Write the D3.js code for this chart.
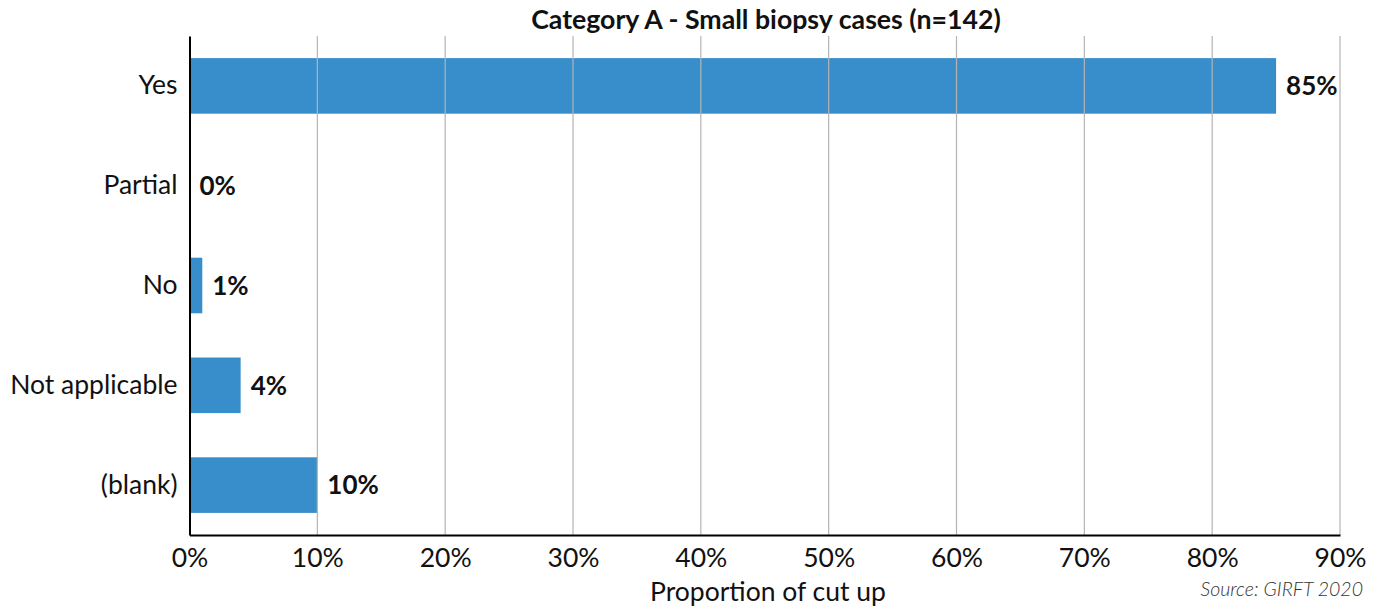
<!DOCTYPE html>
<html>
<head>
<meta charset="utf-8">
<script src="https://cdn.jsdelivr.net/npm/d3@7"></script>
<style>
  html, body { margin: 0; padding: 0; background: #fff; }
  svg { display: block; font-family: Lato, "Open Sans", sans-serif; }
</style>
</head>
<body>
<svg id="chart" width="1388" height="612"></svg>
<script>
// Responses for small biopsy cut-up (proportion, %)
const categories = ["Yes", "Partial", "No", "Not applicable", "(blank)"];
const values = [85, 0, 1, 4, 10];
const tickValues = [0, 10, 20, 30, 40, 50, 60, 70, 80, 90];
const chartTitle = "Category A - Small biopsy cases (n=142)";
const xTitle = "Proportion of cut up";
const sourceNote = "Source: GIRFT 2020";

const svg = d3.select("#chart");
const plotLeft = 189.5, plotRight = 1340, plotTop = 36, plotBottom = 535;

const x = d3.scaleLinear().domain([0, 90]).range([plotLeft, plotRight]);
const y = d3.scaleBand().domain(categories).range([plotTop, plotBottom])
  .paddingInner(0.443).paddingOuter(0.2215);

// bars
svg.append("g").selectAll("rect").data(values).join("rect")
  .attr("x", x(0))
  .attr("y", (d, i) => y(categories[i]))
  .attr("width", d => x(d) - x(0))
  .attr("height", y.bandwidth())
  .attr("fill", "#388ecb");

// vertical gridlines, drawn above the bars
svg.append("g").selectAll("line").data(tickValues.filter(t => t > 0)).join("line")
  .attr("x1", d => x(d)).attr("x2", d => x(d))
  .attr("y1", plotTop).attr("y2", plotBottom)
  .attr("stroke", "#b4b4b4").attr("stroke-width", 1.2);

// bottom axis
const xAxis = d3.axisBottom(x).tickValues(tickValues).tickSize(0).tickFormat(d => d + "%");
const gx = svg.append("g").attr("transform", `translate(0,${plotBottom})`).call(xAxis);
gx.select(".domain").attr("stroke", "#000").attr("stroke-width", 2);
gx.selectAll("text").attr("font-size", 26.5).attr("fill", "#111").attr("dy", 29)
  .attr("font-family", "Lato, sans-serif");

// left axis
const yAxis = d3.axisLeft(y).tickSize(0).tickPadding(12);
const gy = svg.append("g").attr("transform", `translate(${plotLeft},0)`).call(yAxis);
gy.select(".domain").attr("stroke", "#000").attr("stroke-width", 2);
gy.selectAll("text").attr("font-size", 26.5).attr("fill", "#111")
  .attr("font-family", "Lato, sans-serif");

// value labels
svg.append("g").selectAll("text").data(values).join("text")
  .attr("x", d => x(d) + 10)
  .attr("y", (d, i) => y(categories[i]) + y.bandwidth() / 2)
  .attr("dy", "0.36em")
  .attr("font-size", 26).attr("font-weight", 700).attr("fill", "#111")
  .text(d => d + "%");

// title
svg.append("text").attr("x", 766).attr("y", 29)
  .attr("text-anchor", "middle").attr("font-size", 26.7).attr("font-weight", 700)
  .attr("fill", "#111").text(chartTitle);

// axis title
svg.append("text").attr("x", 768).attr("y", 601)
  .attr("text-anchor", "middle").attr("font-size", 26.5).attr("fill", "#111")
  .text(xTitle);

// source note
svg.append("text").attr("x", 1363).attr("y", 596)
  .attr("text-anchor", "end").attr("font-size", 19.5).attr("font-style", "italic")
  .attr("font-weight", 300).attr("fill", "#333")
  .text(sourceNote);
</script>
</body>
</html>
